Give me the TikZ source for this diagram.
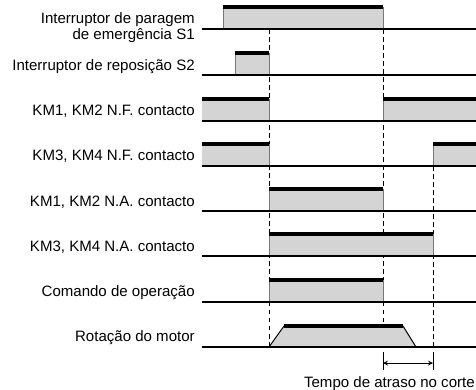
\documentclass[tikz,border=0pt]{standalone}
\usepackage{fontspec}
\setmainfont{Liberation Sans}
\definecolor{pulsegray}{RGB}{212,212,212}
\definecolor{edgegray}{RGB}{120,120,120}
\begin{document}
\begin{tikzpicture}[x=0.025cm,y=-0.025cm,font=\fontsize{10.7}{10.7}\selectfont, line cap=butt,line join=miter,>=stealth,
  base/.style={line width=1.2pt},
  level/.style={line width=2.4pt},
  side/.style={line width=0.7pt,edgegray},
  guide/.style={line width=0.6pt,dash pattern=on 3.5pt off 2.2pt},
  tick/.style={line width=0.6pt},
  lbl/.style={anchor=base east,inner sep=0pt}]
\useasboundingbox (0,0) rectangle (476,390);
% guide lines
\draw [guide](269,29)-- (269,347);
\draw [guide](383,29)-- (383,347);
\draw [guide](433,166)-- (433,347);
% fills
\fill [pulsegray](223,7) rectangle (383,29);
\fill [pulsegray](235,53) rectangle (269,75);
\fill [pulsegray](202,99) rectangle (269,121);
\fill [pulsegray](383,99) rectangle (476,121);
\fill [pulsegray](202,144) rectangle (269,166);
\fill [pulsegray](433,144) rectangle (476,166);
\fill [pulsegray](269,189) rectangle (383,211);
\fill [pulsegray](269,234) rectangle (433,256);
\fill [pulsegray](269,280) rectangle (383,302);
\fill [pulsegray](269,347)-- (284,326)-- (403,326)-- (416,347)-- cycle;
% pulse sides
\draw [side](223,29)-- (223,7);
\draw [side](383,7)-- (383,29);
\draw [side](235,75)-- (235,53);
\draw [side](269,53)-- (269,75);
\draw [side](269,99)-- (269,121);
\draw [side](383,121)-- (383,99);
\draw [side](269,144)-- (269,166);
\draw [side](433,166)-- (433,144);
\draw [side](269,211)-- (269,189);
\draw [side](383,189)-- (383,211);
\draw [side](269,256)-- (269,234);
\draw [side](433,234)-- (433,256);
\draw [side](269,302)-- (269,280);
\draw [side](383,280)-- (383,302);
\draw [line width=0.7pt](269,347)-- (284,326);
\draw [line width=0.7pt](403,326)-- (416,347);
% high levels
\draw [level](223,7)-- (383,7);
\draw [level](235,53)-- (269,53);
\draw [level](202,99)-- (269,99);
\draw [level](383,99)-- (476,99);
\draw [level](202,144)-- (269,144);
\draw [level](433,144)-- (476,144);
\draw [level](269,189)-- (383,189);
\draw [level](269,234)-- (433,234);
\draw [level](269,280)-- (383,280);
\draw [level](284,326)-- (403,326);
% base lines
\draw [base](202,29)-- (476,29);
\draw [base](202,75)-- (476,75);
\draw [base](202,121)-- (476,121);
\draw [base](202,166)-- (476,166);
\draw [base](202,211)-- (476,211);
\draw [base](202,256)-- (476,256);
\draw [base](202,302)-- (476,302);
\draw [base](202,347)-- (476,347);
% delay
\draw [tick](383,352)-- (383,370);
\draw [tick](433,352)-- (433,370);
\coordinate (dl) at (383,363);
\coordinate (dr) at (433,363);
\draw [tick,<->] (dl) -- (dr);
% labels
\node [lbl,align=right] (s1) at (195,39) {Interruptor de paragem\\de emergência S1};
\node [lbl] (s2) at (195,70.5) {Interruptor de reposição S2};
\node [lbl] (km12nf) at (195,115.5) {KM1, KM2 N.F. contacto};
\node [lbl] (km34nf) at (195,160.5) {KM3, KM4 N.F. contacto};
\node [lbl] (km12na) at (195,206) {KM1, KM2 N.A. contacto};
\node [lbl] (km34na) at (195,251) {KM3, KM4 N.A. contacto};
\node [lbl] (cmd) at (195,296.5) {Comando de operação};
\node [lbl] (mot) at (195,341.5) {Rotação do motor};
\node [lbl] (delay) at (475,387) {Tempo de atraso no corte};
\end{tikzpicture}
\end{document}
